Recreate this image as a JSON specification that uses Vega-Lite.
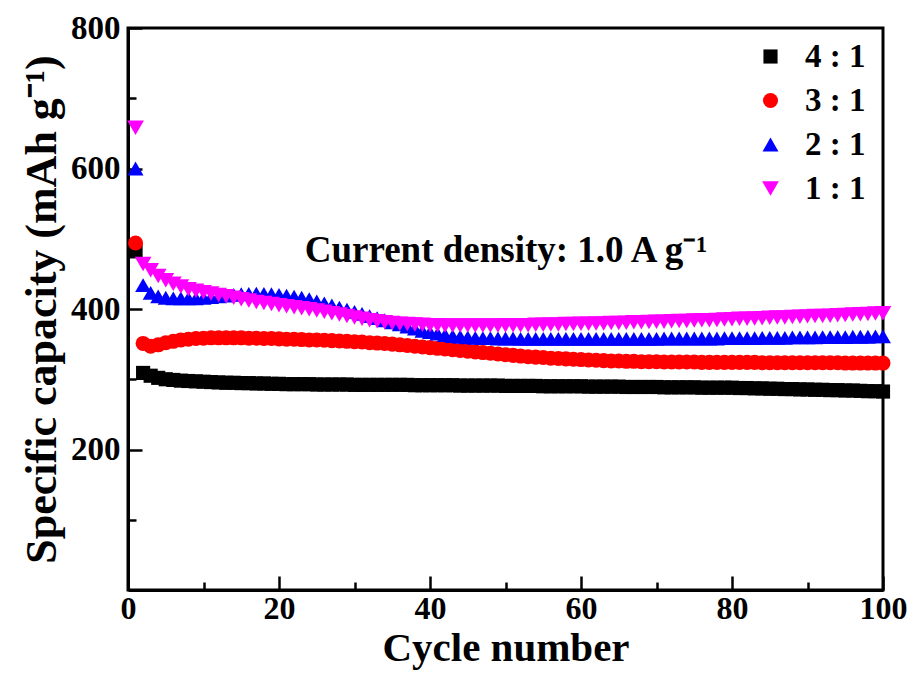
{
  "$schema": "https://vega.github.io/schema/vega-lite/v6.json",
  "width": 755,
  "height": 562,
  "autosize": "none",
  "padding": {"left": 128, "top": 28, "right": 28, "bottom": 88},
  "background": "white",
  "config": {
    "font": "Liberation Serif",
    "view": {"stroke": "black", "strokeWidth": 3},
    "axis": {"grid": false}
  },
  "datasets": {
    "note": [{"cycle": 23.4, "capacity": 467, "label": "Current density: 1.0 A g⁻¹"}],
    "capacity": [
{"cycle":1,"ratio":"4 : 1","capacity":482},{"cycle":2,"ratio":"4 : 1","capacity":309},{"cycle":3,"ratio":"4 : 1","capacity":305},{"cycle":4,"ratio":"4 : 1","capacity":302},{"cycle":5,"ratio":"4 : 1","capacity":300},{"cycle":6,"ratio":"4 : 1","capacity":299},{"cycle":7,"ratio":"4 : 1","capacity":298},{"cycle":8,"ratio":"4 : 1","capacity":297.5},{"cycle":9,"ratio":"4 : 1","capacity":297},{"cycle":10,"ratio":"4 : 1","capacity":296.5},
{"cycle":11,"ratio":"4 : 1","capacity":296},{"cycle":12,"ratio":"4 : 1","capacity":295.5},{"cycle":13,"ratio":"4 : 1","capacity":295},{"cycle":14,"ratio":"4 : 1","capacity":295},{"cycle":15,"ratio":"4 : 1","capacity":294.5},{"cycle":16,"ratio":"4 : 1","capacity":294.5},{"cycle":17,"ratio":"4 : 1","capacity":294},{"cycle":18,"ratio":"4 : 1","capacity":294},{"cycle":19,"ratio":"4 : 1","capacity":293.5},{"cycle":20,"ratio":"4 : 1","capacity":293.5},
{"cycle":21,"ratio":"4 : 1","capacity":293},{"cycle":22,"ratio":"4 : 1","capacity":293},{"cycle":23,"ratio":"4 : 1","capacity":293},{"cycle":24,"ratio":"4 : 1","capacity":293},{"cycle":25,"ratio":"4 : 1","capacity":292.5},{"cycle":26,"ratio":"4 : 1","capacity":292.5},{"cycle":27,"ratio":"4 : 1","capacity":292.5},{"cycle":28,"ratio":"4 : 1","capacity":292.5},{"cycle":29,"ratio":"4 : 1","capacity":292.5},{"cycle":30,"ratio":"4 : 1","capacity":292},
{"cycle":31,"ratio":"4 : 1","capacity":292},{"cycle":32,"ratio":"4 : 1","capacity":292},{"cycle":33,"ratio":"4 : 1","capacity":292},{"cycle":34,"ratio":"4 : 1","capacity":292},{"cycle":35,"ratio":"4 : 1","capacity":292},{"cycle":36,"ratio":"4 : 1","capacity":292},{"cycle":37,"ratio":"4 : 1","capacity":292},{"cycle":38,"ratio":"4 : 1","capacity":291.5},{"cycle":39,"ratio":"4 : 1","capacity":291.5},{"cycle":40,"ratio":"4 : 1","capacity":291.5},
{"cycle":41,"ratio":"4 : 1","capacity":291.5},{"cycle":42,"ratio":"4 : 1","capacity":291.5},{"cycle":43,"ratio":"4 : 1","capacity":291.5},{"cycle":44,"ratio":"4 : 1","capacity":291},{"cycle":45,"ratio":"4 : 1","capacity":291},{"cycle":46,"ratio":"4 : 1","capacity":291},{"cycle":47,"ratio":"4 : 1","capacity":291},{"cycle":48,"ratio":"4 : 1","capacity":291},{"cycle":49,"ratio":"4 : 1","capacity":291},{"cycle":50,"ratio":"4 : 1","capacity":290.5},
{"cycle":51,"ratio":"4 : 1","capacity":290.5},{"cycle":52,"ratio":"4 : 1","capacity":290.5},{"cycle":53,"ratio":"4 : 1","capacity":290.5},{"cycle":54,"ratio":"4 : 1","capacity":290.5},{"cycle":55,"ratio":"4 : 1","capacity":290},{"cycle":56,"ratio":"4 : 1","capacity":290},{"cycle":57,"ratio":"4 : 1","capacity":290},{"cycle":58,"ratio":"4 : 1","capacity":290},{"cycle":59,"ratio":"4 : 1","capacity":290},{"cycle":60,"ratio":"4 : 1","capacity":290},
{"cycle":61,"ratio":"4 : 1","capacity":289.5},{"cycle":62,"ratio":"4 : 1","capacity":289.5},{"cycle":63,"ratio":"4 : 1","capacity":289.5},{"cycle":64,"ratio":"4 : 1","capacity":289.5},{"cycle":65,"ratio":"4 : 1","capacity":289.5},{"cycle":66,"ratio":"4 : 1","capacity":289},{"cycle":67,"ratio":"4 : 1","capacity":289},{"cycle":68,"ratio":"4 : 1","capacity":289},{"cycle":69,"ratio":"4 : 1","capacity":289},{"cycle":70,"ratio":"4 : 1","capacity":289},
{"cycle":71,"ratio":"4 : 1","capacity":288.5},{"cycle":72,"ratio":"4 : 1","capacity":288.5},{"cycle":73,"ratio":"4 : 1","capacity":288.5},{"cycle":74,"ratio":"4 : 1","capacity":288.5},{"cycle":75,"ratio":"4 : 1","capacity":288.5},{"cycle":76,"ratio":"4 : 1","capacity":288},{"cycle":77,"ratio":"4 : 1","capacity":288},{"cycle":78,"ratio":"4 : 1","capacity":288},{"cycle":79,"ratio":"4 : 1","capacity":288},{"cycle":80,"ratio":"4 : 1","capacity":288},
{"cycle":81,"ratio":"4 : 1","capacity":287.5},{"cycle":82,"ratio":"4 : 1","capacity":287.5},{"cycle":83,"ratio":"4 : 1","capacity":287},{"cycle":84,"ratio":"4 : 1","capacity":287},{"cycle":85,"ratio":"4 : 1","capacity":286.5},{"cycle":86,"ratio":"4 : 1","capacity":286.5},{"cycle":87,"ratio":"4 : 1","capacity":286},{"cycle":88,"ratio":"4 : 1","capacity":286},{"cycle":89,"ratio":"4 : 1","capacity":285.5},{"cycle":90,"ratio":"4 : 1","capacity":285.5},
{"cycle":91,"ratio":"4 : 1","capacity":285},{"cycle":92,"ratio":"4 : 1","capacity":285},{"cycle":93,"ratio":"4 : 1","capacity":284.5},{"cycle":94,"ratio":"4 : 1","capacity":284.5},{"cycle":95,"ratio":"4 : 1","capacity":284},{"cycle":96,"ratio":"4 : 1","capacity":284},{"cycle":97,"ratio":"4 : 1","capacity":283.5},{"cycle":98,"ratio":"4 : 1","capacity":283},{"cycle":99,"ratio":"4 : 1","capacity":283},{"cycle":100,"ratio":"4 : 1","capacity":282.5},
{"cycle":1,"ratio":"3 : 1","capacity":494},{"cycle":2,"ratio":"3 : 1","capacity":351},{"cycle":3,"ratio":"3 : 1","capacity":347},{"cycle":4,"ratio":"3 : 1","capacity":349},{"cycle":5,"ratio":"3 : 1","capacity":352},{"cycle":6,"ratio":"3 : 1","capacity":354},{"cycle":7,"ratio":"3 : 1","capacity":356},{"cycle":8,"ratio":"3 : 1","capacity":357},{"cycle":9,"ratio":"3 : 1","capacity":358},{"cycle":10,"ratio":"3 : 1","capacity":358.5},
{"cycle":11,"ratio":"3 : 1","capacity":359},{"cycle":12,"ratio":"3 : 1","capacity":359},{"cycle":13,"ratio":"3 : 1","capacity":359},{"cycle":14,"ratio":"3 : 1","capacity":359},{"cycle":15,"ratio":"3 : 1","capacity":359},{"cycle":16,"ratio":"3 : 1","capacity":358.5},{"cycle":17,"ratio":"3 : 1","capacity":358.5},{"cycle":18,"ratio":"3 : 1","capacity":358},{"cycle":19,"ratio":"3 : 1","capacity":358},{"cycle":20,"ratio":"3 : 1","capacity":357.5},
{"cycle":21,"ratio":"3 : 1","capacity":357},{"cycle":22,"ratio":"3 : 1","capacity":357},{"cycle":23,"ratio":"3 : 1","capacity":356.5},{"cycle":24,"ratio":"3 : 1","capacity":356},{"cycle":25,"ratio":"3 : 1","capacity":356},{"cycle":26,"ratio":"3 : 1","capacity":355.5},{"cycle":27,"ratio":"3 : 1","capacity":355},{"cycle":28,"ratio":"3 : 1","capacity":354.5},{"cycle":29,"ratio":"3 : 1","capacity":354},{"cycle":30,"ratio":"3 : 1","capacity":353.5},
{"cycle":31,"ratio":"3 : 1","capacity":353},{"cycle":32,"ratio":"3 : 1","capacity":352},{"cycle":33,"ratio":"3 : 1","capacity":351.5},{"cycle":34,"ratio":"3 : 1","capacity":351},{"cycle":35,"ratio":"3 : 1","capacity":350},{"cycle":36,"ratio":"3 : 1","capacity":349},{"cycle":37,"ratio":"3 : 1","capacity":348},{"cycle":38,"ratio":"3 : 1","capacity":347},{"cycle":39,"ratio":"3 : 1","capacity":346},{"cycle":40,"ratio":"3 : 1","capacity":345},
{"cycle":41,"ratio":"3 : 1","capacity":344},{"cycle":42,"ratio":"3 : 1","capacity":343},{"cycle":43,"ratio":"3 : 1","capacity":342},{"cycle":44,"ratio":"3 : 1","capacity":341},{"cycle":45,"ratio":"3 : 1","capacity":340},{"cycle":46,"ratio":"3 : 1","capacity":339},{"cycle":47,"ratio":"3 : 1","capacity":338},{"cycle":48,"ratio":"3 : 1","capacity":337},{"cycle":49,"ratio":"3 : 1","capacity":336},{"cycle":50,"ratio":"3 : 1","capacity":335},
{"cycle":51,"ratio":"3 : 1","capacity":334},{"cycle":52,"ratio":"3 : 1","capacity":333},{"cycle":53,"ratio":"3 : 1","capacity":332},{"cycle":54,"ratio":"3 : 1","capacity":331.5},{"cycle":55,"ratio":"3 : 1","capacity":331},{"cycle":56,"ratio":"3 : 1","capacity":330},{"cycle":57,"ratio":"3 : 1","capacity":329.5},{"cycle":58,"ratio":"3 : 1","capacity":329},{"cycle":59,"ratio":"3 : 1","capacity":328.5},{"cycle":60,"ratio":"3 : 1","capacity":328},
{"cycle":61,"ratio":"3 : 1","capacity":327.5},{"cycle":62,"ratio":"3 : 1","capacity":327},{"cycle":63,"ratio":"3 : 1","capacity":326.5},{"cycle":64,"ratio":"3 : 1","capacity":326},{"cycle":65,"ratio":"3 : 1","capacity":326},{"cycle":66,"ratio":"3 : 1","capacity":325.5},{"cycle":67,"ratio":"3 : 1","capacity":325.5},{"cycle":68,"ratio":"3 : 1","capacity":325},{"cycle":69,"ratio":"3 : 1","capacity":325},{"cycle":70,"ratio":"3 : 1","capacity":325},
{"cycle":71,"ratio":"3 : 1","capacity":324.5},{"cycle":72,"ratio":"3 : 1","capacity":324.5},{"cycle":73,"ratio":"3 : 1","capacity":324.5},{"cycle":74,"ratio":"3 : 1","capacity":324.5},{"cycle":75,"ratio":"3 : 1","capacity":324.5},{"cycle":76,"ratio":"3 : 1","capacity":324},{"cycle":77,"ratio":"3 : 1","capacity":324},{"cycle":78,"ratio":"3 : 1","capacity":324},{"cycle":79,"ratio":"3 : 1","capacity":324},{"cycle":80,"ratio":"3 : 1","capacity":324},
{"cycle":81,"ratio":"3 : 1","capacity":324},{"cycle":82,"ratio":"3 : 1","capacity":324},{"cycle":83,"ratio":"3 : 1","capacity":324},{"cycle":84,"ratio":"3 : 1","capacity":323.5},{"cycle":85,"ratio":"3 : 1","capacity":323.5},{"cycle":86,"ratio":"3 : 1","capacity":323.5},{"cycle":87,"ratio":"3 : 1","capacity":323.5},{"cycle":88,"ratio":"3 : 1","capacity":323.5},{"cycle":89,"ratio":"3 : 1","capacity":323.5},{"cycle":90,"ratio":"3 : 1","capacity":323.5},
{"cycle":91,"ratio":"3 : 1","capacity":323.5},{"cycle":92,"ratio":"3 : 1","capacity":323.5},{"cycle":93,"ratio":"3 : 1","capacity":323.5},{"cycle":94,"ratio":"3 : 1","capacity":323.5},{"cycle":95,"ratio":"3 : 1","capacity":323},{"cycle":96,"ratio":"3 : 1","capacity":323},{"cycle":97,"ratio":"3 : 1","capacity":323},{"cycle":98,"ratio":"3 : 1","capacity":323},{"cycle":99,"ratio":"3 : 1","capacity":323},{"cycle":100,"ratio":"3 : 1","capacity":323},
{"cycle":1,"ratio":"2 : 1","capacity":600},{"cycle":2,"ratio":"2 : 1","capacity":434},{"cycle":3,"ratio":"2 : 1","capacity":423},{"cycle":4,"ratio":"2 : 1","capacity":418},{"cycle":5,"ratio":"2 : 1","capacity":416},{"cycle":6,"ratio":"2 : 1","capacity":415},{"cycle":7,"ratio":"2 : 1","capacity":415},{"cycle":8,"ratio":"2 : 1","capacity":415},{"cycle":9,"ratio":"2 : 1","capacity":415},{"cycle":10,"ratio":"2 : 1","capacity":416},
{"cycle":11,"ratio":"2 : 1","capacity":417},{"cycle":12,"ratio":"2 : 1","capacity":418},{"cycle":13,"ratio":"2 : 1","capacity":419},{"cycle":14,"ratio":"2 : 1","capacity":420},{"cycle":15,"ratio":"2 : 1","capacity":421},{"cycle":16,"ratio":"2 : 1","capacity":421.5},{"cycle":17,"ratio":"2 : 1","capacity":422},{"cycle":18,"ratio":"2 : 1","capacity":421.5},{"cycle":19,"ratio":"2 : 1","capacity":421},{"cycle":20,"ratio":"2 : 1","capacity":420},
{"cycle":21,"ratio":"2 : 1","capacity":419},{"cycle":22,"ratio":"2 : 1","capacity":417.5},{"cycle":23,"ratio":"2 : 1","capacity":416},{"cycle":24,"ratio":"2 : 1","capacity":414},{"cycle":25,"ratio":"2 : 1","capacity":411},{"cycle":26,"ratio":"2 : 1","capacity":408},{"cycle":27,"ratio":"2 : 1","capacity":405},{"cycle":28,"ratio":"2 : 1","capacity":402},{"cycle":29,"ratio":"2 : 1","capacity":399},{"cycle":30,"ratio":"2 : 1","capacity":396},
{"cycle":31,"ratio":"2 : 1","capacity":393},{"cycle":32,"ratio":"2 : 1","capacity":390},{"cycle":33,"ratio":"2 : 1","capacity":387},{"cycle":34,"ratio":"2 : 1","capacity":384},{"cycle":35,"ratio":"2 : 1","capacity":381},{"cycle":36,"ratio":"2 : 1","capacity":378},{"cycle":37,"ratio":"2 : 1","capacity":375},{"cycle":38,"ratio":"2 : 1","capacity":372},{"cycle":39,"ratio":"2 : 1","capacity":369},{"cycle":40,"ratio":"2 : 1","capacity":367},
{"cycle":41,"ratio":"2 : 1","capacity":365},{"cycle":42,"ratio":"2 : 1","capacity":363},{"cycle":43,"ratio":"2 : 1","capacity":361.5},{"cycle":44,"ratio":"2 : 1","capacity":360.5},{"cycle":45,"ratio":"2 : 1","capacity":359.5},{"cycle":46,"ratio":"2 : 1","capacity":359},{"cycle":47,"ratio":"2 : 1","capacity":358.5},{"cycle":48,"ratio":"2 : 1","capacity":358.5},{"cycle":49,"ratio":"2 : 1","capacity":358},{"cycle":50,"ratio":"2 : 1","capacity":358},
{"cycle":51,"ratio":"2 : 1","capacity":358},{"cycle":52,"ratio":"2 : 1","capacity":357.5},{"cycle":53,"ratio":"2 : 1","capacity":357.5},{"cycle":54,"ratio":"2 : 1","capacity":357.5},{"cycle":55,"ratio":"2 : 1","capacity":357.5},{"cycle":56,"ratio":"2 : 1","capacity":357.5},{"cycle":57,"ratio":"2 : 1","capacity":357.5},{"cycle":58,"ratio":"2 : 1","capacity":357.5},{"cycle":59,"ratio":"2 : 1","capacity":357.5},{"cycle":60,"ratio":"2 : 1","capacity":357.5},
{"cycle":61,"ratio":"2 : 1","capacity":357.5},{"cycle":62,"ratio":"2 : 1","capacity":357.5},{"cycle":63,"ratio":"2 : 1","capacity":357.5},{"cycle":64,"ratio":"2 : 1","capacity":357.5},{"cycle":65,"ratio":"2 : 1","capacity":357.5},{"cycle":66,"ratio":"2 : 1","capacity":357.5},{"cycle":67,"ratio":"2 : 1","capacity":357.5},{"cycle":68,"ratio":"2 : 1","capacity":357.5},{"cycle":69,"ratio":"2 : 1","capacity":357.5},{"cycle":70,"ratio":"2 : 1","capacity":357.5},
{"cycle":71,"ratio":"2 : 1","capacity":358},{"cycle":72,"ratio":"2 : 1","capacity":358},{"cycle":73,"ratio":"2 : 1","capacity":358},{"cycle":74,"ratio":"2 : 1","capacity":358},{"cycle":75,"ratio":"2 : 1","capacity":358},{"cycle":76,"ratio":"2 : 1","capacity":358},{"cycle":77,"ratio":"2 : 1","capacity":358},{"cycle":78,"ratio":"2 : 1","capacity":358},{"cycle":79,"ratio":"2 : 1","capacity":358.5},{"cycle":80,"ratio":"2 : 1","capacity":358.5},
{"cycle":81,"ratio":"2 : 1","capacity":358.5},{"cycle":82,"ratio":"2 : 1","capacity":358.5},{"cycle":83,"ratio":"2 : 1","capacity":358.5},{"cycle":84,"ratio":"2 : 1","capacity":359},{"cycle":85,"ratio":"2 : 1","capacity":359},{"cycle":86,"ratio":"2 : 1","capacity":359},{"cycle":87,"ratio":"2 : 1","capacity":359},{"cycle":88,"ratio":"2 : 1","capacity":359.5},{"cycle":89,"ratio":"2 : 1","capacity":359.5},{"cycle":90,"ratio":"2 : 1","capacity":359.5},
{"cycle":91,"ratio":"2 : 1","capacity":359.5},{"cycle":92,"ratio":"2 : 1","capacity":360},{"cycle":93,"ratio":"2 : 1","capacity":360},{"cycle":94,"ratio":"2 : 1","capacity":360},{"cycle":95,"ratio":"2 : 1","capacity":360},{"cycle":96,"ratio":"2 : 1","capacity":360.5},{"cycle":97,"ratio":"2 : 1","capacity":360.5},{"cycle":98,"ratio":"2 : 1","capacity":360.5},{"cycle":99,"ratio":"2 : 1","capacity":361},{"cycle":100,"ratio":"2 : 1","capacity":361},
{"cycle":1,"ratio":"1 : 1","capacity":658},{"cycle":2,"ratio":"1 : 1","capacity":464},{"cycle":3,"ratio":"1 : 1","capacity":455},{"cycle":4,"ratio":"1 : 1","capacity":447},{"cycle":5,"ratio":"1 : 1","capacity":441},{"cycle":6,"ratio":"1 : 1","capacity":436},{"cycle":7,"ratio":"1 : 1","capacity":432},{"cycle":8,"ratio":"1 : 1","capacity":428},{"cycle":9,"ratio":"1 : 1","capacity":426},{"cycle":10,"ratio":"1 : 1","capacity":424},
{"cycle":11,"ratio":"1 : 1","capacity":422},{"cycle":12,"ratio":"1 : 1","capacity":420},{"cycle":13,"ratio":"1 : 1","capacity":418},{"cycle":14,"ratio":"1 : 1","capacity":416},{"cycle":15,"ratio":"1 : 1","capacity":414},{"cycle":16,"ratio":"1 : 1","capacity":412},{"cycle":17,"ratio":"1 : 1","capacity":410},{"cycle":18,"ratio":"1 : 1","capacity":408.5},{"cycle":19,"ratio":"1 : 1","capacity":407},{"cycle":20,"ratio":"1 : 1","capacity":405.5},
{"cycle":21,"ratio":"1 : 1","capacity":404},{"cycle":22,"ratio":"1 : 1","capacity":402.5},{"cycle":23,"ratio":"1 : 1","capacity":401},{"cycle":24,"ratio":"1 : 1","capacity":399.5},{"cycle":25,"ratio":"1 : 1","capacity":398},{"cycle":26,"ratio":"1 : 1","capacity":396},{"cycle":27,"ratio":"1 : 1","capacity":394},{"cycle":28,"ratio":"1 : 1","capacity":392},{"cycle":29,"ratio":"1 : 1","capacity":390},{"cycle":30,"ratio":"1 : 1","capacity":388},
{"cycle":31,"ratio":"1 : 1","capacity":386},{"cycle":32,"ratio":"1 : 1","capacity":384},{"cycle":33,"ratio":"1 : 1","capacity":382.5},{"cycle":34,"ratio":"1 : 1","capacity":381},{"cycle":35,"ratio":"1 : 1","capacity":380},{"cycle":36,"ratio":"1 : 1","capacity":379},{"cycle":37,"ratio":"1 : 1","capacity":378.5},{"cycle":38,"ratio":"1 : 1","capacity":378},{"cycle":39,"ratio":"1 : 1","capacity":377.5},{"cycle":40,"ratio":"1 : 1","capacity":377},
{"cycle":41,"ratio":"1 : 1","capacity":377},{"cycle":42,"ratio":"1 : 1","capacity":376.5},{"cycle":43,"ratio":"1 : 1","capacity":376.5},{"cycle":44,"ratio":"1 : 1","capacity":376.5},{"cycle":45,"ratio":"1 : 1","capacity":376.5},{"cycle":46,"ratio":"1 : 1","capacity":376.5},{"cycle":47,"ratio":"1 : 1","capacity":376.5},{"cycle":48,"ratio":"1 : 1","capacity":376.5},{"cycle":49,"ratio":"1 : 1","capacity":376.5},{"cycle":50,"ratio":"1 : 1","capacity":377},
{"cycle":51,"ratio":"1 : 1","capacity":377},{"cycle":52,"ratio":"1 : 1","capacity":377},{"cycle":53,"ratio":"1 : 1","capacity":377},{"cycle":54,"ratio":"1 : 1","capacity":377.5},{"cycle":55,"ratio":"1 : 1","capacity":377.5},{"cycle":56,"ratio":"1 : 1","capacity":378},{"cycle":57,"ratio":"1 : 1","capacity":378},{"cycle":58,"ratio":"1 : 1","capacity":378.5},{"cycle":59,"ratio":"1 : 1","capacity":378.5},{"cycle":60,"ratio":"1 : 1","capacity":379},
{"cycle":61,"ratio":"1 : 1","capacity":379},{"cycle":62,"ratio":"1 : 1","capacity":379.5},{"cycle":63,"ratio":"1 : 1","capacity":379.5},{"cycle":64,"ratio":"1 : 1","capacity":380},{"cycle":65,"ratio":"1 : 1","capacity":380},{"cycle":66,"ratio":"1 : 1","capacity":380.5},{"cycle":67,"ratio":"1 : 1","capacity":381},{"cycle":68,"ratio":"1 : 1","capacity":381},{"cycle":69,"ratio":"1 : 1","capacity":381.5},{"cycle":70,"ratio":"1 : 1","capacity":382},
{"cycle":71,"ratio":"1 : 1","capacity":382},{"cycle":72,"ratio":"1 : 1","capacity":382.5},{"cycle":73,"ratio":"1 : 1","capacity":383},{"cycle":74,"ratio":"1 : 1","capacity":383},{"cycle":75,"ratio":"1 : 1","capacity":383.5},{"cycle":76,"ratio":"1 : 1","capacity":384},{"cycle":77,"ratio":"1 : 1","capacity":384},{"cycle":78,"ratio":"1 : 1","capacity":384.5},{"cycle":79,"ratio":"1 : 1","capacity":385},{"cycle":80,"ratio":"1 : 1","capacity":385.5},
{"cycle":81,"ratio":"1 : 1","capacity":386},{"cycle":82,"ratio":"1 : 1","capacity":386},{"cycle":83,"ratio":"1 : 1","capacity":386.5},{"cycle":84,"ratio":"1 : 1","capacity":387},{"cycle":85,"ratio":"1 : 1","capacity":387.5},{"cycle":86,"ratio":"1 : 1","capacity":388},{"cycle":87,"ratio":"1 : 1","capacity":388},{"cycle":88,"ratio":"1 : 1","capacity":388.5},{"cycle":89,"ratio":"1 : 1","capacity":389},{"cycle":90,"ratio":"1 : 1","capacity":389.5},
{"cycle":91,"ratio":"1 : 1","capacity":390},{"cycle":92,"ratio":"1 : 1","capacity":390},{"cycle":93,"ratio":"1 : 1","capacity":390.5},{"cycle":94,"ratio":"1 : 1","capacity":391},{"cycle":95,"ratio":"1 : 1","capacity":391.5},{"cycle":96,"ratio":"1 : 1","capacity":392},{"cycle":97,"ratio":"1 : 1","capacity":392.5},{"cycle":98,"ratio":"1 : 1","capacity":393},{"cycle":99,"ratio":"1 : 1","capacity":393.5},{"cycle":100,"ratio":"1 : 1","capacity":394}
    ]
  },
  "layer": [
    {
      "data": {"name": "capacity"},
      "mark": {"type": "point", "filled": true, "opacity": 1, "strokeWidth": 0},
      "encoding": {
        "x": {
          "field": "cycle", "type": "quantitative",
          "scale": {"domain": [0, 100], "nice": false, "zero": false},
          "axis": {
            "orient": "bottom",
            "values": [0, 20, 40, 60, 80, 100],
            "format": "d",
            "tickSize": -14, "tickWidth": 2.5, "tickColor": "black",
            "domainColor": "black", "domainWidth": 3,
            "labelFont": "Liberation Serif", "labelFontWeight": "bold", "labelFontSize": 32, "labelColor": "black",
            "labelPadding": 17, "labelFlush": false, "labelOverlap": false,
            "title": "Cycle number",
            "titleFont": "Liberation Serif", "titleFontWeight": "bold", "titleFontSize": 41, "titleColor": "black",
            "titlePadding": 4
          }
        },
        "y": {
          "field": "capacity", "type": "quantitative",
          "scale": {"domain": [0, 800], "nice": false},
          "axis": {
            "orient": "left",
            "values": [200, 400, 600, 800],
            "format": "d",
            "tickSize": -14, "tickWidth": 2.5, "tickColor": "black",
            "domainColor": "black", "domainWidth": 3,
            "labelFont": "Liberation Serif", "labelFontWeight": "bold", "labelFontSize": 33, "labelColor": "black",
            "labelPadding": 22, "labelFlush": false, "labelOverlap": false,
            "title": "Specific capacity (mAh g⁻¹)",
            "titleFont": "Liberation Serif", "titleFontWeight": "bold", "titleFontSize": 44, "titleColor": "black",
            "titlePadding": 6
          }
        },
        "color": {
          "field": "ratio", "type": "nominal",
          "scale": {"domain": ["4 : 1", "3 : 1", "2 : 1", "1 : 1"], "range": ["#000000", "#ff0000", "#0000ff", "#ff00ff"]},
          "legend": {
            "title": null,
            "orient": "none", "legendX": 626, "legendY": 12,
            "padding": 0,
            "symbolSize": 300, "symbolStrokeWidth": 0,
            "labelFont": "Liberation Serif", "labelFontWeight": "bold", "labelFontSize": 33, "labelColor": "black",
            "labelOffset": 18, "rowPadding": 10
          }
        },
        "shape": {
          "field": "ratio", "type": "nominal",
          "scale": {"domain": ["4 : 1", "3 : 1", "2 : 1", "1 : 1"], "range": ["square", "circle", "triangle-up", "triangle-down"]}
        },
        "size": {
          "field": "ratio", "type": "nominal",
          "scale": {"domain": ["4 : 1", "3 : 1", "2 : 1", "1 : 1"], "range": [200, 280, 300, 300]},
          "legend": null
        }
      }
    },
    {
      "data": {"name": "note"},
      "mark": {"type": "text", "align": "left", "baseline": "alphabetic", "font": "Liberation Serif", "fontWeight": "bold", "fontSize": 37, "color": "black"},
      "encoding": {
        "x": {
          "field": "cycle", "type": "quantitative",
          "axis": {"orient": "bottom", "values": [10, 30, 50, 70, 90], "labels": false, "domain": false, "title": null, "tickSize": -8, "tickWidth": 2.5, "tickColor": "black"}
        },
        "y": {
          "field": "capacity", "type": "quantitative",
          "axis": {"orient": "left", "values": [100, 300, 500, 700], "labels": false, "domain": false, "title": null, "tickSize": -8, "tickWidth": 2.5, "tickColor": "black"}
        },
        "text": {"field": "label"}
      }
    }
  ],
  "resolve": {"axis": {"x": "independent", "y": "independent"}}
}
